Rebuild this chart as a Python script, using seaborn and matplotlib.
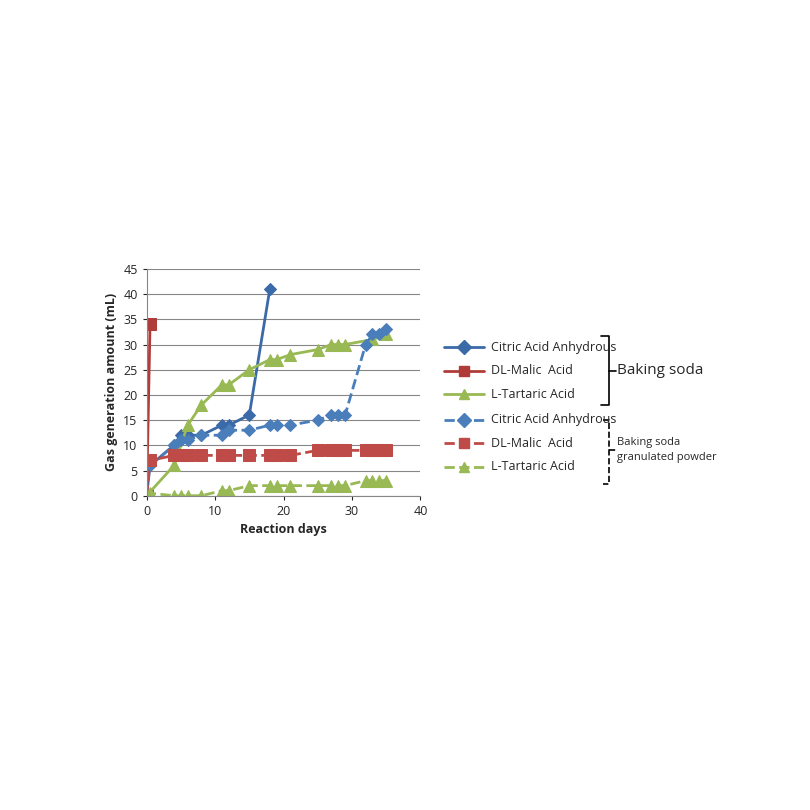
import matplotlib
matplotlib.use("Agg")
import matplotlib.pyplot as plt
import seaborn as sns
import pandas as pd
from matplotlib.lines import Line2D

sns.set_style("white")
plt.rcParams['font.family'] = ['Open Sans', 'DejaVu Sans']

# solid lines: baking soda
citric_days = [0, 0.5, 4, 5, 6, 8, 11, 12, 15, 18]
citric_gas = [0, 6, 10, 12, 12, 12, 14, 14, 16, 41]
malic_days = [0, 0.5]
malic_gas = [0, 34]
tart_days = [0, 4, 6, 8, 11, 12, 15, 18, 19, 21, 25, 27, 28, 29, 33, 35]
tart_gas = [0, 6, 14, 18, 22, 22, 25, 27, 27, 28, 29, 30, 30, 30, 31, 32]

# dashed lines: baking soda granulated powder
g_days = [0.5, 4, 5, 6, 8, 11, 12, 15, 18, 19, 21, 25, 27, 28, 29, 32, 33, 34, 35]
g_citric = [6, 10, 11, 11, 12, 12, 13, 13, 14, 14, 14, 15, 16, 16, 16, 30, 32, 32, 33]
g_malic = [7, 8, 8, 8, 8, 8, 8, 8, 8, 8, 8, 9, 9, 9, 9, 9, 9, 9, 9]
g_tart = [0.5, 0, 0, 0, 0, 1, 1, 2, 2, 2, 2, 2, 2, 2, 2, 3, 3, 3, 3]

blue, red, green = "#4a7ebb", "#be4b48", "#98b954"
dblue, dred = "#3b6aa8", "#b03c3a"

fig = plt.figure(figsize=(8.1, 8.1), dpi=100)
ax = fig.add_axes([0.181, 0.388, 0.338, 0.28])

series = [
    (citric_days, citric_gas, dblue, "D", "-", 6),
    (malic_days, malic_gas, dred, "s", "-", 8),
    (tart_days, tart_gas, green, "^", "-", 8),
    (g_days, g_citric, blue, "D", "--", 6),
    ([0] + g_days, [0] + g_malic, red, "s", "--", 9),
    ([0] + g_days, [0] + g_tart, green, "^", "--", 9),
]
for x, y, c, m, ls, ms in series:
    df = pd.DataFrame({"x": x, "y": y})
    sns.lineplot(data=df, x="x", y="y", ax=ax, color=c, marker=m, linestyle=ls,
                 markersize=ms, linewidth=2, markeredgecolor=c, sort=False)

ax.set_xlim(0, 40)
ax.set_ylim(0, 45)
ax.set_xticks(range(0, 41, 10))
ax.set_yticks(range(0, 46, 5))
ax.grid(axis="y", color="#868686", linewidth=0.8)
for s in ["top", "right"]:
    ax.spines[s].set_visible(False)
for s in ["left", "bottom"]:
    ax.spines[s].set_color("#868686")
ax.tick_params(labelsize=9, length=3, direction="out", bottom=True, left=True)
ax.set_xlabel("Reaction days", fontsize=9, fontweight="bold")
ax.set_ylabel("Gas generation amount (mL)", fontsize=9, fontweight="bold")

# legend entries drawn by hand
labels = ["Citric Acid Anhydrous", "DL-Malic  Acid", "L-Tartaric Acid"] * 2
ys = [0.571, 0.542, 0.513, 0.482, 0.453, 0.424]
for i, (x, y, c, m, ls, ms) in enumerate(series):
    fy = ys[i]
    fig.add_artist(Line2D([0.548, 0.598], [fy, fy], color=c, linestyle=ls, linewidth=2,
                          transform=fig.transFigure))
    fig.add_artist(Line2D([0.573], [fy], color=c, marker=m, markersize=7,
                          transform=fig.transFigure))
    fig.text(0.606, fy, labels[i], fontsize=9, va="center")

# braces
fig.add_artist(Line2D([0.742, 0.752, 0.752, 0.742], [0.585, 0.585, 0.500, 0.500],
                      color="black", linewidth=1.2, transform=fig.transFigure))
fig.add_artist(Line2D([0.752, 0.760], [0.542, 0.542], color="black", linewidth=1.2,
                      transform=fig.transFigure))
fig.text(0.762, 0.542, "Baking soda", fontsize=11, va="center")
fig.add_artist(Line2D([0.745, 0.752, 0.752, 0.745], [0.482, 0.482, 0.403, 0.403],
                      color="black", linewidth=1.2, linestyle="--", transform=fig.transFigure))
fig.add_artist(Line2D([0.752, 0.760], [0.444, 0.444], color="black", linewidth=1.2,
                      linestyle="--", transform=fig.transFigure))
fig.text(0.762, 0.444, "Baking soda\ngranulated powder", fontsize=8, va="center", linespacing=1.5)

fig.savefig("out.png", dpi=100)
